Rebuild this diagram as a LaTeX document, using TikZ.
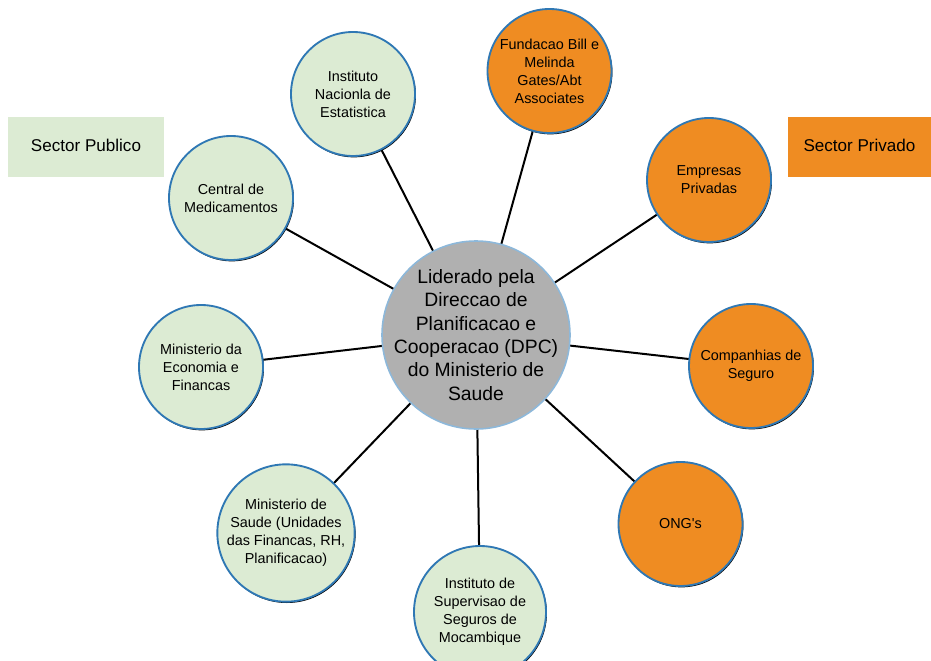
\documentclass[tikz,border=0pt]{standalone}
\usepackage{fontspec}
\setmainfont{Liberation Sans}
\usetikzlibrary{positioning, shadows}

\definecolor{verde}{HTML}{DCEBD3}
\definecolor{laranja}{HTML}{EF8C22}
\definecolor{cinza}{HTML}{B0B0B0}
\definecolor{azul}{HTML}{2F78B4}
\definecolor{azulclaro}{HTML}{8DB8DA}

\begin{document}
\begin{tikzpicture}[x=0.75pt, y=-0.75pt, semithick]
		\tikzstyle{every node}=[font=\fontsize{10.8}{13.5}\selectfont, align=center, text=black]
		\tikzstyle{ator}=[circle, draw=azul, line width=1.4pt, minimum size=93pt, inner sep=-4pt,
			drop shadow={shadow xshift=0.7pt, shadow yshift=-1pt, fill=black, opacity=1}]
		\tikzstyle{publico}=[ator, fill=verde]
		\tikzstyle{privado}=[ator, fill=laranja]
		\tikzstyle{sector}=[rectangle, minimum height=45pt, inner sep=0pt, font=\fontsize{12.8}{15}\selectfont]
		\tikzstyle{ligacao}=[line width=1.5pt, black]
		
		\useasboundingbox (0,0) rectangle (931,660);
		
		% legenda
		\node[sector, fill=verde, minimum width=117pt] (pub) at (86,147) {\raisebox{2pt}{Sector Publico}};
		\node[sector, fill=laranja, minimum width=107pt] (priv) at (859.5,147) {\raisebox{2pt}{Sector Privado}};
		
		% ligacoes ao centro
		\coordinate (c0) at (476,335);
		\path[ligacao] (c0) edge (353,94)
		(c0) edge (549.5,71)
		(c0) edge (709,180)
		(c0) edge (751,366)
		(c0) edge (680.5,524)
		(c0) edge (480,612)
		(c0) edge (286,533)
		(c0) edge (201,367)
		(c0) edge (231,198);
		
		% sector publico
		\node[publico] (ine)   at (353,94)   {Instituto\\Nacionla de\\Estatistica};
		\node[publico] (cmam)  at (231,198)  {Central de\\Medicamentos};
		\node[publico] (mef)   at (201,367)  {Ministerio da\\Economia e\\Financas};
		\node[publico, minimum size=103pt] (misau) at (286,533) {Ministerio de\\Saude (Unidades\\das Financas, RH,\\Planificacao)};
		\node[publico, minimum size=99pt]  (issm)  at (480,612) {Instituto de\\Supervisao de\\Seguros de\\Mocambique};
		
		% sector privado
		\node[privado] (fund) at (549.5,71)  {Fundacao Bill e\\Melinda\\Gates/Abt\\Associates};
		\node[privado] (emp)  at (709,180)   {Empresas\\Privadas};
		\node[privado] (comp) at (751,366)   {Companhias de\\Seguro};
		\node[privado] (ong)  at (680.5,524) {ONG\textquotesingle s};
		
		% centro
		\node[circle, fill=cinza, draw=azulclaro, line width=1.2pt, minimum size=141pt, inner sep=-12pt,
			font=\fontsize{14.5}{17.5}\selectfont] (dpc) at (c0)
			{Liderado pela\\Direccao de\\Planificacao e\\Cooperacao (DPC)\\do Ministerio de\\Saude};
	\end{tikzpicture}
\end{document}
